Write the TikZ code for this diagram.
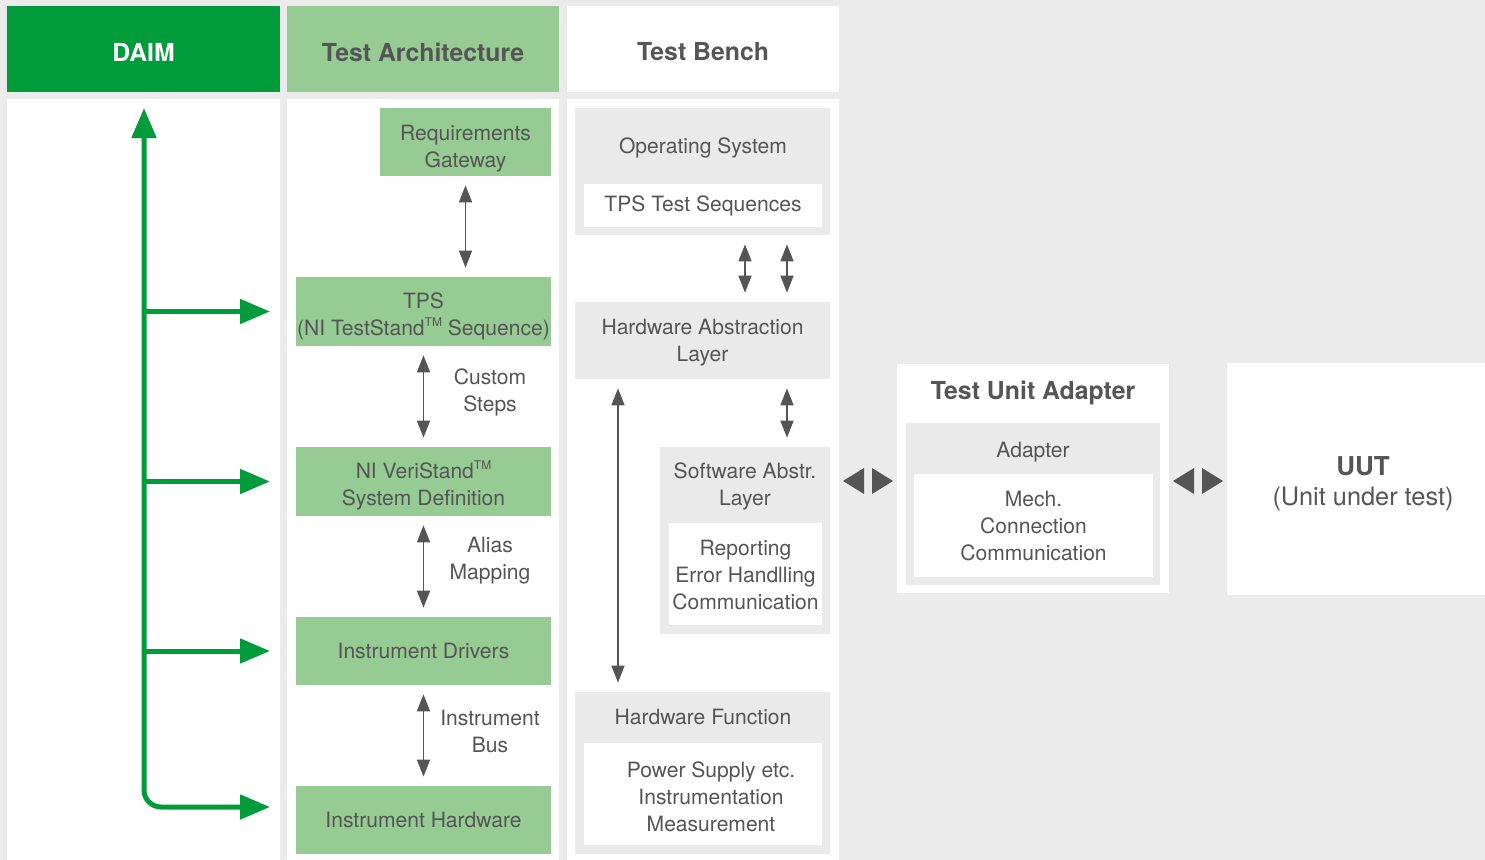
\documentclass[tikz,border=0pt]{standalone}
\usepackage{fontspec}
\setmainfont{TeX Gyre Heros}
\usetikzlibrary{arrows.meta,fit}
\definecolor{bg}{HTML}{EBEBEB}
\definecolor{dgreen}{HTML}{009B3A}
\definecolor{lgreen}{HTML}{96CB93}
\definecolor{txt}{HTML}{555555}
\definecolor{gboxc}{HTML}{EAEAEA}
\newcommand{\tmark}{\raisebox{0.75ex}{\fontsize{9}{9}\selectfont TM}}
\begin{document}
\begin{tikzpicture}[x=0.75pt,y=-0.75pt,
  font=\fontsize{15.8}{20.25}\selectfont, text=txt,
  box/.style={inner sep=0pt, outer sep=0pt, draw=none},
  wbox/.style={box, fill=white},
  gbox/.style={box, fill=gboxc},
  lg/.style={box, fill=lgreen},
  lbl/.style={inner sep=0pt, align=center},
  hdr/.style={font=\fontsize{18.6}{22}\selectfont\bfseries},
  garr/.style={draw=txt, line width=1.1pt, shorten >=7pt, shorten <=7pt,
    {Triangle[length=12.75pt,width=9.75pt]}-{Triangle[length=12.75pt,width=9.75pt]}},
  greenarr/.style={draw=dgreen, line width=3.75pt, -{Triangle[length=22.5pt,width=18pt]}},
  tri/.style={fill=txt, draw=none}
]
\useasboundingbox (0,0) rectangle (1485,860);
\fill[bg] (0,0) rectangle (1485,860);

% headers
\node[box, fill=dgreen, fit={(7,6) (280,92)}] (daim) {};
\node[lbl, hdr, text=white] (daimlbl) at ([yshift=-2.25pt]daim.center) {DAIM};
\node[box, fill=lgreen, fit={(287,6) (559,92)}] (tarch) {};
\node[lbl, hdr] (tarchlbl) at ([yshift=-2.25pt]tarch.center) {Test Architecture};
\node[box, fill=white, fit={(567,6) (839,92)}] (tbench) {};
\node[lbl, hdr] (tbenchlbl) at ([yshift=-2.25pt]tbench.center) {Test Bench};

% columns
\node[wbox, fit={(7,99) (280,860)}] (daimcol) {};
\node[wbox, fit={(287,99) (559,860)}] (tacol) {};
\node[wbox, fit={(567,99) (839,860)}] (tbcol) {};

% Test Architecture column
\node[lg, fit={(380,108) (551,176)}] (req) {};
\node[lbl] (reqlbl) at ([yshift=-5pt]req.center) {Requirements\\Gateway};
\node[lg, fit={(296,277) (551,346)}] (tps) {};
\node[lbl] (tpslbl) at ([yshift=-3.5pt]tps.center) {TPS\\(NI TestStand\tmark{} Sequence)};
\node[lg, fit={(296,447) (551,516)}] (vs) {};
\node[lbl] (vslbl) at ([yshift=-3pt]vs.center) {NI VeriStand\tmark\\System Definition};
\node[lg, fit={(296,617) (551,685)}] (drv) {};
\node[lbl] (drvlbl) at (drv.center) {Instrument Drivers};
\node[lg, fit={(296,786) (551,854)}] (hw) {};
\node[lbl] (hwlbl) at (hw.center) {Instrument Hardware};

\draw[garr] (req) -- (req |- tps.north);
\draw[garr] (tps) -- (vs);
\draw[garr] (vs) -- (drv);
\draw[garr] (drv) -- (hw);

\node[lbl] (cs) at (490,392) {Custom\\Steps};
\node[lbl] (am) at (490,561) {Alias\\Mapping};
\node[lbl] (ib) at (490,731) {Instrument\\Bus};

% DAIM arrows
\coordinate (gtop) at (144,108);
\draw[dgreen, line width=3.75pt, rounded corners=12.75pt, shorten >=19.5pt,
  {Triangle[length=22.5pt,width=18pt]}-{Triangle[length=22.5pt,width=18pt]}]
  (gtop) |- ([yshift=9.75pt]hw.west);
\draw[greenarr, shorten >=19.5pt] (tps.west -| gtop) -- (tps.west);
\draw[greenarr, shorten >=19.5pt] (vs.west -| gtop) -- (vs.west);
\draw[greenarr, shorten >=19.5pt] (drv.west -| gtop) -- (drv.west);

% Test Bench column
\node[gbox, fit={(575,108) (830,235)}] (os) {};
\node[lbl] (oslbl) at (703,148) {Operating System};
\node[wbox, fit={(584,184) (822,227)}] (tpsseq) {};
\node[lbl] (tpsseqlbl) at (tpsseq.center) {TPS Test Sequences};

\node[gbox, fit={(575,302) (830,379)}] (hal) {};
\node[lbl] (hallbl) at ([yshift=-1.5pt]hal.center) {Hardware Abstraction\\Layer};

\node[gbox, fit={(660,447) (830,634)}] (sal) {};
\node[lbl] (sallbl) at (745,486) {Software Abstr.\\Layer};
\node[wbox, fit={(669,523) (822,625)}] (salin) {};
\node[lbl] (salinlbl) at ([yshift=-0.75pt]salin.center) {Reporting\\Error Handlling\\Communication};

\node[gbox, fit={(575,692) (830,854)}] (hf) {};
\node[lbl] (hflbl) at (703,717) {Hardware Function};
\node[wbox, fit={(584,743) (822,845)}] (hfin) {};
\node[lbl] (hftxt) at (711,797) {Power Supply etc.\\Instrumentation\\Measurement};

\coordinate (xa) at (745,0);
\coordinate (xb) at (787,0);
\coordinate (xc) at (618,0);
\draw[garr] (os.south -| xa) -- (hal.north -| xa);
\draw[garr] (os.south -| xb) -- (hal.north -| xb);
\draw[garr] (hal.south -| xc) -- (hf.north -| xc);
\draw[garr] (hal.south -| xb) -- (sal.north -| xb);

% Test Unit Adapter
\node[wbox, fit={(897,364) (1169,593)}] (tua) {};
\node[lbl, hdr] (tualbl) at (1033,393) {Test Unit Adapter};
\node[gbox, fit={(906,423) (1160,585)}] (adp) {};
\node[lbl] (adplbl) at (1033,452) {Adapter};
\node[wbox, fit={(914,474) (1153,577)}] (adpin) {};
\node[lbl] (adpinlbl) at ([yshift=-0.75pt]adpin.center) {Mech.\\Connection\\Communication};

% UUT
\node[wbox, fit={(1227,363) (1485,595)}] (uut) {};
\node[lbl, font=\fontsize{19.5}{22}\selectfont\bfseries] (uutlbl) at (1363,466) {UUT};
\node[lbl, font=\fontsize{19}{22}\selectfont] (uutsub) at (1363,499) {(Unit under test)};

% triangle pairs
\fill[tri] (843,481) -- (864,468) -- (864,494) -- cycle;
\fill[tri] (893,481) -- (872,468) -- (872,494) -- cycle;
\fill[tri] (1173,481) -- (1194,468) -- (1194,494) -- cycle;
\fill[tri] (1223,481) -- (1202,468) -- (1202,494) -- cycle;
\end{tikzpicture}
\end{document}
